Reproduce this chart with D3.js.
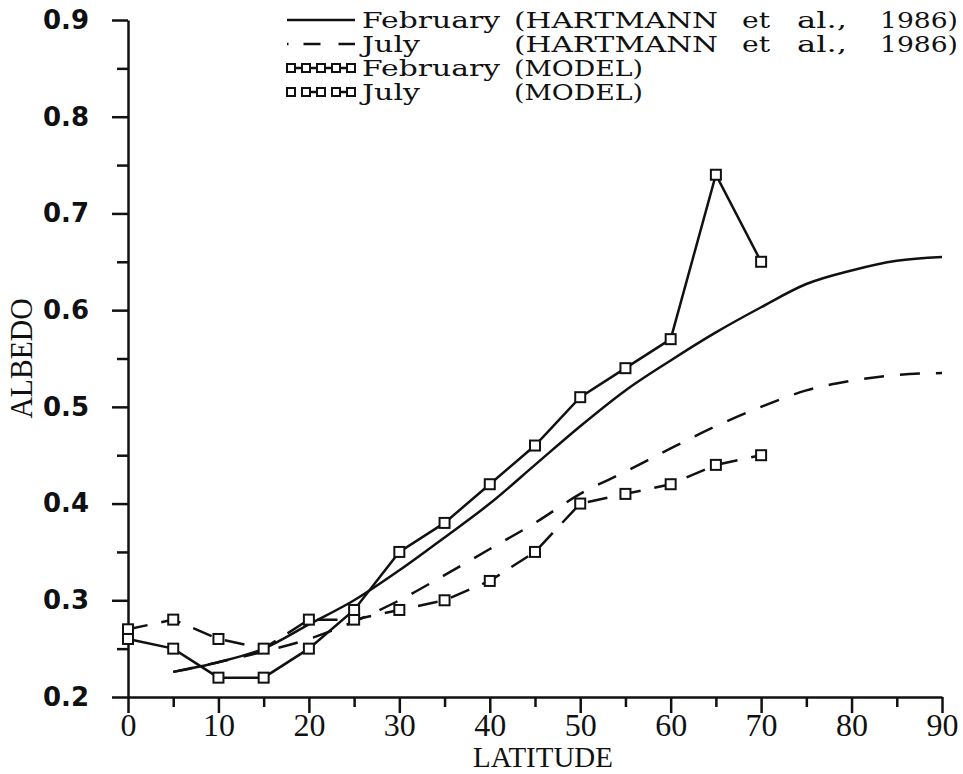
<!DOCTYPE html>
<html>
<head>
<meta charset="utf-8">
<script src="https://cdn.jsdelivr.net/npm/d3@7"></script>
<style>
  html, body { margin: 0; padding: 0; background: #fff; }
  svg { display: block; }
</style>
</head>
<body>
<svg id="chart"></svg>
<script>
// Data
const modelLat = [0, 5, 10, 15, 20, 25, 30, 35, 40, 45, 50, 55, 60, 65, 70];
const febModel = [0.26, 0.25, 0.22, 0.22, 0.25, 0.29, 0.35, 0.38, 0.42, 0.46, 0.51, 0.54, 0.57, 0.74, 0.65];
const julModel = [0.27, 0.28, 0.26, 0.25, 0.28, 0.28, 0.29, 0.30, 0.32, 0.35, 0.40, 0.41, 0.42, 0.44, 0.45];

const hartLat = [5, 10, 15, 20, 25, 30, 35, 40, 45, 50, 55, 60, 65, 70, 75, 80, 85, 90];
const febHart = [0.226, 0.236, 0.250, 0.275, 0.300, 0.331, 0.365, 0.400, 0.440, 0.480, 0.517, 0.548, 0.577, 0.603, 0.627, 0.641, 0.651, 0.655];
const julHart = [0.226, 0.236, 0.247, 0.260, 0.278, 0.300, 0.326, 0.353, 0.380, 0.410, 0.433, 0.457, 0.480, 0.500, 0.517, 0.527, 0.533, 0.535];

const xTicks = [0, 10, 20, 30, 40, 50, 60, 70, 80, 90];
const xMinor = [5, 15, 25, 35, 45, 55, 65, 75, 85];
const yTicks = [0.2, 0.3, 0.4, 0.5, 0.6, 0.7, 0.8, 0.9];
const yMinor = [0.25, 0.35, 0.45, 0.55, 0.65, 0.75, 0.85];

const legendMonths = ['February', 'July', 'February', 'July'];
const hartWords = ['(HARTMANN', 'et', 'al.,', '1986)'];
const modelWord = '(MODEL)';

const W = 963, H = 774;
const svg = d3.select('#chart').attr('width', W).attr('height', H);

const x = d3.scaleLinear().domain([0, 90]).range([128, 942]);
const y = d3.scaleLinear().domain([0.2, 0.9]).range([697, 20]);

const ink = '#111';
const lw = 2.5;

// Axes
const yAxis = svg.append('g').attr('transform', `translate(${x(0)},0)`)
    .call(d3.axisLeft(y).tickValues(yTicks).tickSize(16).tickSizeOuter(0).tickPadding(23)
        .tickFormat(d3.format('.1f')));
svg.append('g').attr('transform', `translate(${x(0)},0)`)
    .call(d3.axisLeft(y).tickValues(yMinor).tickSize(11).tickFormat(''))
    .select('.domain').remove();

const xAxis = svg.append('g').attr('transform', `translate(0,${y(0.2)})`)
    .call(d3.axisBottom(x).tickValues(xTicks).tickSize(16).tickSizeOuter(0));
svg.append('g').attr('transform', `translate(0,${y(0.2)})`)
    .call(d3.axisBottom(x).tickValues(xMinor).tickSize(10).tickFormat(''))
    .select('.domain').remove();

svg.selectAll('.domain, .tick line').attr('stroke', ink).attr('stroke-width', lw);

yAxis.selectAll('text')
    .attr('font-family', 'DejaVu Sans, sans-serif')
    .attr('font-weight', 'bold')
    .attr('font-size', 26)
    .attr('fill', ink);

xAxis.selectAll('text')
    .attr('y', 16)
    .attr('font-family', 'Liberation Serif, serif')
    .attr('font-size', 32)
    .attr('fill', ink);

// Axis titles
svg.append('text')
    .attr('transform', `translate(32,${(y(0.2) + y(0.9)) / 2}) rotate(-90)`)
    .attr('text-anchor', 'middle')
    .attr('font-family', 'Liberation Serif, serif')
    .attr('font-size', 32)
    .attr('textLength', 120)
    .attr('lengthAdjust', 'spacingAndGlyphs')
    .attr('fill', ink)
    .text('ALBEDO');

svg.append('text')
    .attr('x', 543)
    .attr('y', 767)
    .attr('text-anchor', 'middle')
    .attr('font-family', 'Liberation Serif, serif')
    .attr('font-size', 29)
    .attr('textLength', 140)
    .attr('lengthAdjust', 'spacingAndGlyphs')
    .attr('fill', ink)
    .text('LATITUDE');

// Lines
const line = d3.line().x(d => x(d[0])).y(d => y(d[1]));
const smooth = d3.line().x(d => x(d[0])).y(d => y(d[1])).curve(d3.curveMonotoneX);

const plot = svg.append('g').attr('fill', 'none').attr('stroke', ink).attr('stroke-width', lw);

plot.append('path').attr('d', smooth(d3.zip(hartLat, febHart)));
plot.append('path').attr('d', smooth(d3.zip(hartLat, julHart))).attr('stroke-dasharray', '20,16');
plot.append('path').attr('d', line(d3.zip(modelLat, febModel)));
plot.append('path').attr('d', line(d3.zip(modelLat, julModel))).attr('stroke-dasharray', '20,14');

const sq = 10;
function markers(vals) {
    svg.append('g').selectAll('rect')
        .data(d3.zip(modelLat, vals))
        .join('rect')
        .attr('x', d => x(d[0]) - sq / 2)
        .attr('y', d => y(d[1]) - sq / 2)
        .attr('width', sq).attr('height', sq)
        .attr('fill', '#fff').attr('stroke', ink).attr('stroke-width', 2);
}
markers(julModel);
markers(febModel);

// Legend
const legX0 = 287, legX1 = 355, rowY = [20, 44, 68, 92];
const leg = svg.append('g');
const sample = (i, dash) => leg.append('line')
    .attr('x1', legX0).attr('x2', legX1).attr('y1', rowY[i]).attr('y2', rowY[i])
    .attr('stroke', ink).attr('stroke-width', lw)
    .attr('stroke-dasharray', dash || null);
sample(0);
sample(1, '1.5,15,17,18,17');
sample(2);
sample(3, '0,19,15,15,15');
[2, 3].forEach(row => {
    d3.range(5).forEach(k => {
        const cx = legX0 + 4 + k * (legX1 - legX0 - 8) / 4;
        leg.append('rect')
            .attr('x', cx - 4).attr('y', rowY[row] - 4)
            .attr('width', 8).attr('height', 8)
            .attr('fill', '#fff').attr('stroke', ink).attr('stroke-width', 2);
    });
});

const legText = (str, x0, len, yy) => leg.append('text')
    .attr('x', x0).attr('y', yy)
    .attr('font-family', 'DejaVu Serif, serif')
    .attr('font-size', 22)
    .attr('textLength', len)
    .attr('lengthAdjust', 'spacingAndGlyphs')
    .attr('fill', ink)
    .text(str);

const hartX = [514, 742, 797, 880];
const hartLen = [204, 28, 50, 78];
legendMonths.forEach((m, i) => {
    const base = rowY[i] + 8;
    legText(m, 362, m === 'July' ? 58 : 138, base);
    if (i < 2) {
        hartWords.forEach((w, k) => legText(w, hartX[k], hartLen[k], base));
    } else {
        legText(modelWord, 514, 129, base);
    }
});
</script>
</body>
</html>
